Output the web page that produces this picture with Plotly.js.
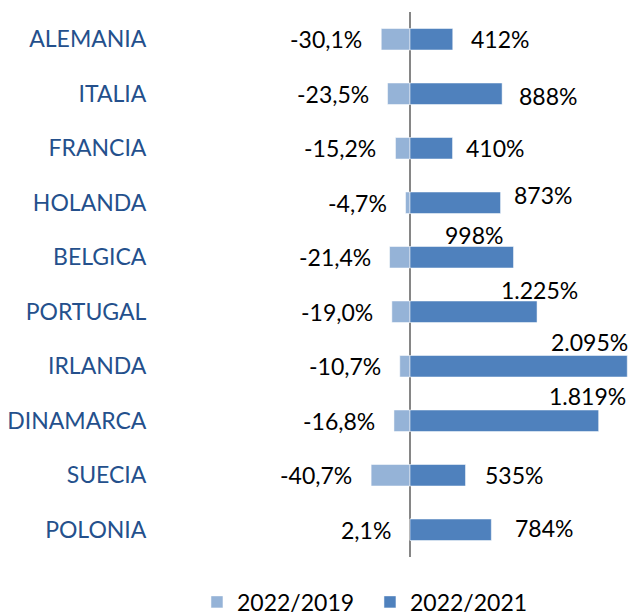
<!DOCTYPE html>
<html>
<head>
<meta charset="utf-8">
<script src="https://cdn.plot.ly/plotly-3.0.1.min.js"></script>
<style>html,body{margin:0;padding:0;background:#fff;}#chart{width:634px;height:616px;}</style>
</head>
<body>
<div id="chart"></div>
<script>
// ---- data ----
const countries = ["ALEMANIA","ITALIA","FRANCIA","HOLANDA","BELGICA","PORTUGAL","IRLANDA","DINAMARCA","SUECIA","POLONIA"];
const vs2019 = [-30.1, -23.5, -15.2, -4.7, -21.4, -19.0, -10.7, -16.8, -40.7, 2.1];
const vs2021 = [412, 888, 410, 873, 998, 1225, 2095, 1819, 535, 784];
const seriesNames = ["2022/2019", "2022/2021"];

// ---- label placement (style only) ----
const darkLabelPlace = [
  {xanchor:"left",  xshift:16, yshift:0},
  {xanchor:"left",  xshift:15, yshift:-2},
  {xanchor:"left",  xshift:11, yshift:0},
  {xanchor:"left",  xshift:11, yshift:8},
  {xanchor:"right", xshift:-9, yshift:22},
  {xanchor:"center",xshift:2,  yshift:22},
  {xanchor:"right", xshift:3,  yshift:24},
  {xanchor:"right", xshift:29, yshift:25},
  {xanchor:"left",  xshift:17, yshift:0},
  {xanchor:"left",  xshift:22, yshift:2}
];

const FONT = "Lato, 'Open Sans', sans-serif";
const FS = 23;

function fmt1(v){ return v.toFixed(1).replace(".", ",") + "%"; }
function fmtInt(v){ return String(Math.round(v)).replace(/\B(?=(\d{3})+(?!\d))/g, ".") + "%"; }

const traces = [
  {type:"bar", orientation:"h", name:seriesNames[0], x:vs2019, y:countries,
   xaxis:"x", yaxis:"y", marker:{color:"#95B3D7", line:{color:"#ffffff", width:0.5}}, hoverinfo:"none"},
  {type:"bar", orientation:"h", name:seriesNames[1], x:vs2021, y:countries,
   xaxis:"x2", yaxis:"y", marker:{color:"#4F81BD", line:{color:"#ffffff", width:0.5}}, hoverinfo:"none"}
];

const annotations = [];
countries.forEach((c, i) => {
  annotations.push({xref:"x", yref:"y", x:Math.min(vs2019[i], 0), y:c, text:fmt1(vs2019[i]),
    showarrow:false, xanchor:"right", yanchor:"middle", xshift:-17,
    font:{family:FONT, size:FS, color:"#000"}});
  const p = darkLabelPlace[i];
  annotations.push({xref:"x2", yref:"y", x:vs2021[i], y:c, text:fmtInt(vs2021[i]),
    showarrow:false, xanchor:p.xanchor, yanchor:"middle", xshift:p.xshift, yshift:p.yshift,
    font:{family:FONT, size:FS, color:"#000"}});
});

const layout = {
  width:634, height:616,
  margin:{l:160, r:6, t:12, b:59, autoexpand:false},
  paper_bgcolor:"#fff", plot_bgcolor:"#fff",
  bargap:0.606,
  showlegend:true,
  legend:{orientation:"h", x:0.079, xanchor:"left", y:-0.043, yanchor:"top",
    font:{family:FONT, size:FS, color:"#000"}, itemwidth:30, entrywidth:128, traceorder:"normal"},
  xaxis:{range:[-261.8, 228.3], showgrid:false, showticklabels:false, zeroline:false, showline:false, ticks:""},
  xaxis2:{range:[-2411, 2102], overlaying:"x", showgrid:false, showticklabels:false,
    zeroline:true, zerolinecolor:"#868686", zerolinewidth:2, layer:"above traces", showline:false, ticks:""},
  yaxis:{autorange:"reversed", type:"category", showgrid:false, zeroline:false, showline:false,
    ticks:"outside", ticklen:8, tickcolor:"rgba(0,0,0,0)",
    tickfont:{family:FONT, size:FS, color:"#24508C"}},
  annotations:annotations
};

Plotly.newPlot("chart", traces, layout, {staticPlot:true, displayModeBar:false});
</script>
</body>
</html>
